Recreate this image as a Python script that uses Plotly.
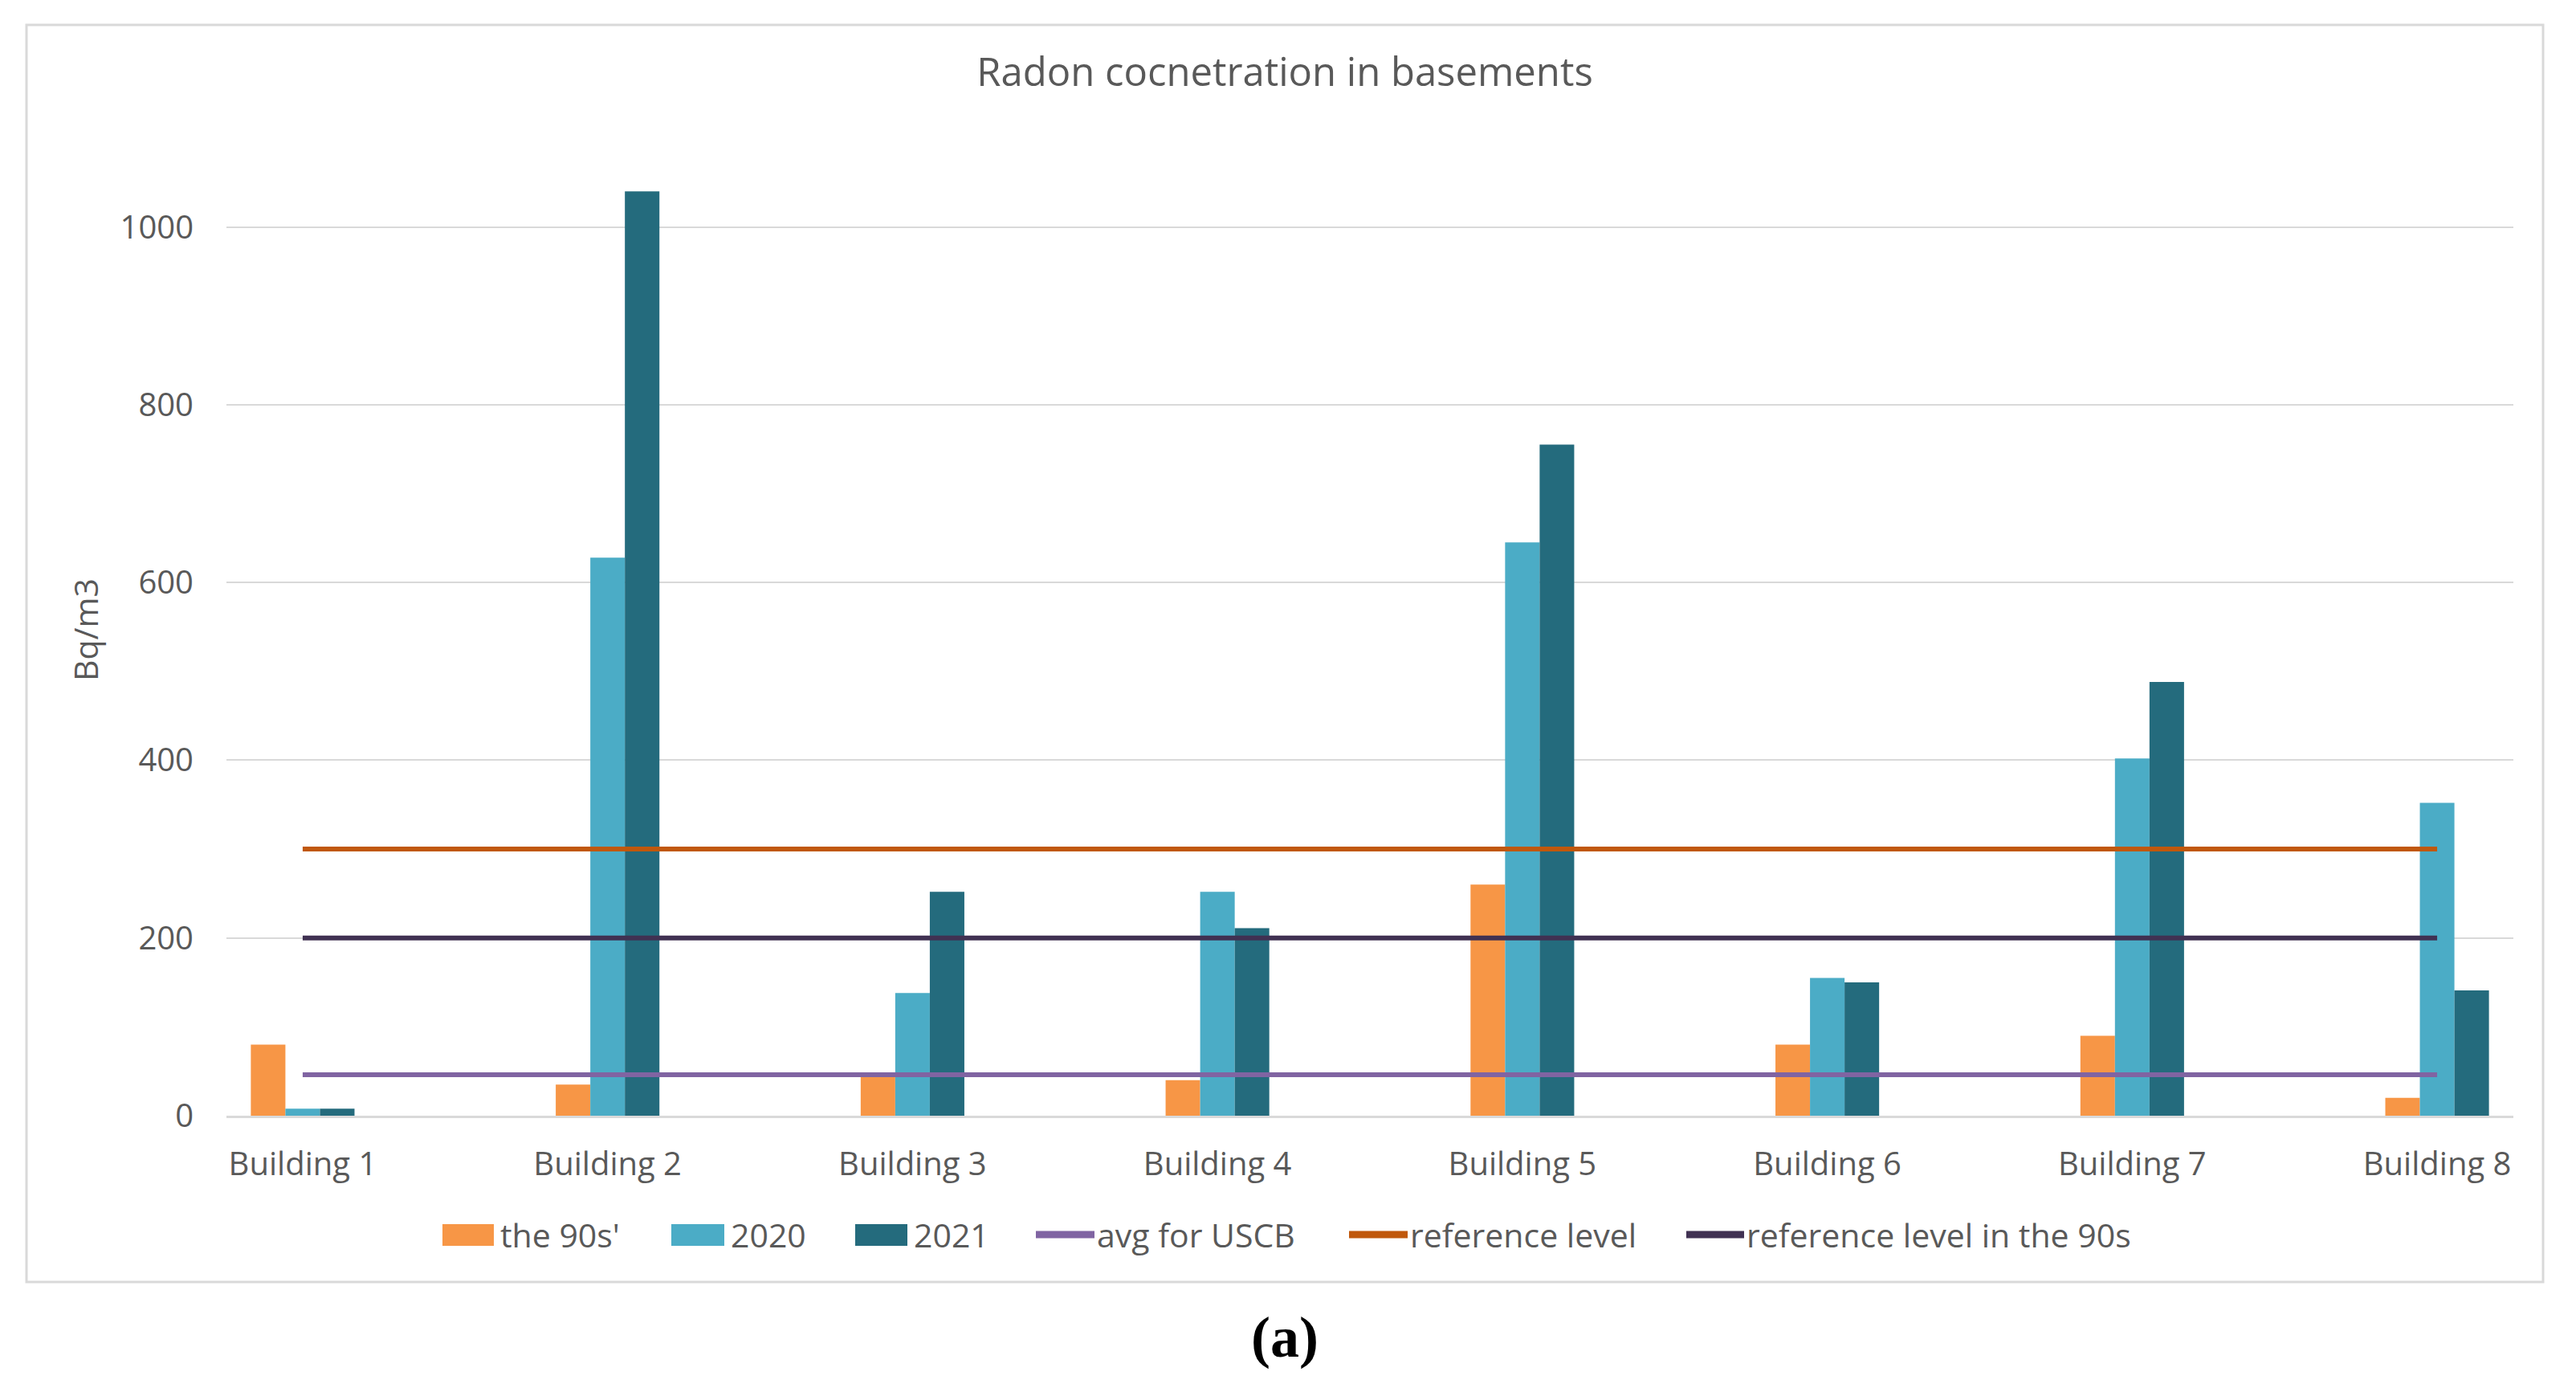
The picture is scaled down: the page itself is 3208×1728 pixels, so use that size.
import plotly.graph_objects as go

buildings = ["Building 1", "Building 2", "Building 3", "Building 4",
             "Building 5", "Building 6", "Building 7", "Building 8"]
the_90s = [80, 35, 45, 40, 260, 80, 90, 20]
y2020 = [8, 628, 138, 252, 645, 155, 402, 352]
y2021 = [8, 1040, 252, 211, 755, 150, 488, 141]
avg_uscb = [46, 46, 46, 46, 46, 46, 46, 46]
ref_level = [300, 300, 300, 300, 300, 300, 300, 300]
ref_level_90s = [200, 200, 200, 200, 200, 200, 200, 200]
y_ticks = [0, 200, 400, 600, 800, 1000]

bar_names = ["the 90s'", "2020", "2021"]
line_names = ["avg for USCB", "reference level", "reference level in the 90s"]
bar_colors = ["#F79646", "#4BACC6", "#246B7D"]
line_colors = ["#8064A2", "#C0580C", "#403152"]

W, H = 3208, 1728
OFF = 8  # page body margin
L0, R0, T0, B0 = 282, 3130, 194, 1389   # plot area in reference pixels
FONT = "Open Sans"
GREY = "#595959"


def px(x):
    return (x - L0) / (R0 - L0)


def py(y):
    return (B0 - y) / (B0 - T0)


fig = go.Figure()
for name, vals, col in zip(bar_names, [the_90s, y2020, y2021], bar_colors):
    fig.add_trace(go.Bar(x=buildings, y=vals, name=name, marker_color=col,
                         marker_line_width=0, showlegend=False))
for name, vals, col in zip(line_names, [avg_uscb, ref_level, ref_level_90s], line_colors):
    fig.add_trace(go.Scatter(x=buildings, y=vals, name=name, mode="lines",
                             line=dict(color=col, width=6), showlegend=False))

fig.update_layout(
    width=W, height=H,
    margin=dict(l=L0 - OFF, r=W - R0 + OFF, t=T0 - OFF, b=H - B0 + OFF, autoexpand=False),
    paper_bgcolor="white", plot_bgcolor="white",
    barmode="group", bargap=0.66, bargroupgap=0,
    font=dict(family=FONT, color=GREY, size=40),
    title=dict(text="Radon cocnetration in basements", x=(1600 - OFF) / W, xanchor="center",
               y=1 - (90 - OFF) / H, yanchor="middle",
               font=dict(size=49, color=GREY, family=FONT)),
    xaxis=dict(range=[-0.25, 7.25], showgrid=False, showline=True, linecolor="#d9d9d9",
               linewidth=3, ticks="", ticklabelstandoff=23,
               tickfont=dict(size=40, color=GREY)),
    yaxis=dict(range=[0, 1080], tickvals=y_ticks, showgrid=True, gridcolor="#d9d9d9",
               gridwidth=2, zeroline=False, showline=False, ticks="", ticklabelstandoff=40,
               tickfont=dict(size=40, color=GREY)),
    showlegend=False,
)

# legend (drawn in paper coordinates)
LEG_Y = 1537
LEG_FONT = 41
bar_sw = [(551, 615), (836, 902), (1065, 1130)]
line_sw = [(1290, 1363), (1680, 1753), (2100, 2172)]
for (x0, x1), col, name in zip(bar_sw, bar_colors, bar_names):
    fig.add_shape(type="rect", xref="paper", yref="paper",
                  x0=px(x0), x1=px(x1), y0=py(LEG_Y + 14), y1=py(LEG_Y - 13),
                  line=dict(width=0), fillcolor=col)
    fig.add_annotation(text=name, x=px(x1 + 6), y=py(LEG_Y), xref="paper", yref="paper",
                       xanchor="left", yanchor="middle", showarrow=False,
                       font=dict(size=LEG_FONT, color=GREY, family=FONT))
for (x0, x1), col, name in zip(line_sw, line_colors, line_names):
    fig.add_shape(type="line", xref="paper", yref="paper",
                  x0=px(x0), x1=px(x1), y0=py(LEG_Y), y1=py(LEG_Y),
                  line=dict(color=col, width=9))
    fig.add_annotation(text=name, x=px(x1 + 1), y=py(LEG_Y), xref="paper", yref="paper",
                       xanchor="left", yanchor="middle", showarrow=False,
                       font=dict(size=LEG_FONT, color=GREY, family=FONT))

fig.add_annotation(text="Bq/m3", x=px(106), y=py(784), xref="paper", yref="paper",
                   textangle=-90, showarrow=False, font=dict(size=41, color=GREY, family=FONT),
                   xanchor="center", yanchor="middle")
fig.add_annotation(text="<b>(a)</b>", x=px(1600), y=py(1665), xref="paper", yref="paper",
                   showarrow=False, font=dict(size=72, color="black", family="Liberation Serif"),
                   xanchor="center", yanchor="middle")
fig.add_shape(type="rect", xref="paper", yref="paper",
              x0=px(33), x1=px(3167), y0=py(1596), y1=py(31),
              line=dict(color="#d9d9d9", width=3), fillcolor="rgba(0,0,0,0)", layer="below")

fig.write_html("out.html")
